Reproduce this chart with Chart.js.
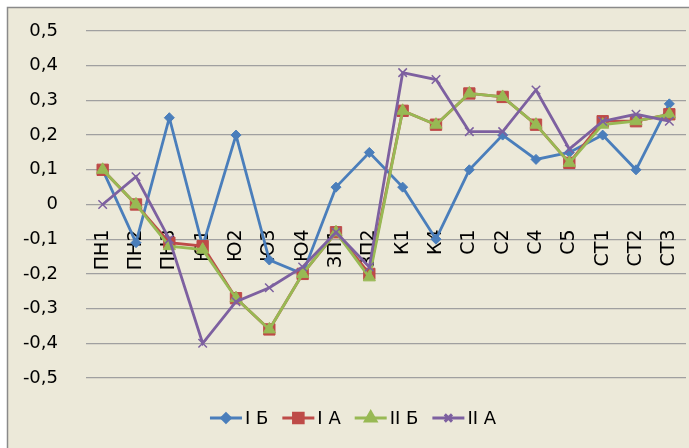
<!DOCTYPE html>
<html>
<head>
<meta charset="utf-8">
<script src="https://cdn.jsdelivr.net/npm/chart.js@4.4.1/dist/chart.umd.min.js"></script>
<style>
html,body{margin:0;padding:0;background:#fff;}
#wrap{width:689px;height:448px;}
</style>
</head>
<body>
<div id="wrap"><canvas id="c" width="689" height="448"></canvas></div>
<script>
const categories = ['ПН1','ПН2','ПН3','Ю1','Ю2','Ю3','Ю4','ЗП1','ЗП2','К1','К4','С1','С2','С4','С5','СТ1','СТ2','СТ3'];
const seriesNames = ['I Б','I A','II Б','II A'];
const iB  = [0.10,-0.11,0.25,-0.12,0.20,-0.16,-0.20,0.05,0.15,0.05,-0.10,0.10,0.20,0.13,0.15,0.20,0.10,0.29];
const iA  = [0.10,0.00,-0.11,-0.12,-0.27,-0.36,-0.20,-0.08,-0.20,0.27,0.23,0.32,0.31,0.23,0.12,0.24,0.24,0.26];
const iiB = [0.10,0.00,-0.12,-0.13,-0.27,-0.36,-0.20,-0.08,-0.21,0.27,0.23,0.32,0.31,0.23,0.12,0.23,0.24,0.26];
const iiA = [0.00,0.08,-0.10,-0.40,-0.28,-0.24,-0.18,-0.08,-0.18,0.38,0.36,0.21,0.21,0.33,0.16,0.24,0.26,0.24];
const yTicks = [-0.5,-0.4,-0.3,-0.2,-0.1,0,0.1,0.2,0.3,0.4,0.5];

const colors = ['#4A7EBB','#BE4B48','#98B954','#7D60A0'];
const styles = ['rectRot','rect','triangle','crossRot'];
const radii = [5,8,7,6];
const FONT = 'DejaVu Sans';
const PLOT_RIGHT = 686;

function fmt(v){ if (Math.abs(v) < 1e-9) return '0'; return v.toFixed(1).replace('.', ','); }

const bgPlugin = {
  id:'bg',
  beforeDraw(chart){
    const ctx = chart.ctx;
    ctx.save();
    ctx.fillStyle = '#ffffff';
    ctx.fillRect(0,0,chart.width,chart.height);
    ctx.fillStyle = '#ECE9D9';
    ctx.fillRect(7,7,chart.width-7,chart.height-7);
    ctx.strokeStyle = '#8a8a8a';
    ctx.lineWidth = 1.5;
    ctx.beginPath();
    ctx.moveTo(7.5,chart.height); ctx.lineTo(7.5,7.5); ctx.lineTo(chart.width,7.5);
    ctx.stroke();
    ctx.restore();
  }
};

const fitXPlugin = {
  id:'fitX',
  afterLayout(chart){
    const a = chart.chartArea;
    a.right = PLOT_RIGHT; a.width = a.right - a.left;
    const s = chart.scales.x;
    s.left = a.left; s.right = a.right; s.width = a.width;
    s.configure();
  }
};

const legendPlugin = {
  id:'customLegend',
  afterDraw(chart){
    const ctx = chart.ctx;
    ctx.save();
    ctx.font = '18px "' + FONT + '"';
    ctx.textBaseline = 'middle';
    const lineLen = 32, gap = 3, spacing = 14;
    const widths = seriesNames.map(n => lineLen + gap + ctx.measureText(n).width);
    const total = widths.reduce((a,b)=>a+b,0) + spacing*(seriesNames.length-1);
    let x = 353 - total/2;
    const y = 418;
    seriesNames.forEach((n,i)=>{
      ctx.strokeStyle = colors[i];
      ctx.lineWidth = 3;
      ctx.beginPath(); ctx.moveTo(x,y); ctx.lineTo(x+lineLen,y); ctx.stroke();
      ctx.fillStyle = colors[i];
      ctx.strokeStyle = colors[i];
      Chart.helpers.drawPoint(ctx,{pointStyle:styles[i],radius:radii[i]*0.85,borderWidth:1,rotation:0},x+lineLen/2,y);
      ctx.fillStyle = '#000';
      ctx.textAlign = 'left';
      ctx.fillText(n, x+lineLen+gap, y+1);
      x += widths[i] + spacing;
    });
    ctx.restore();
  }
};

const dataArrays = [iB,iA,iiB,iiA];
const datasets = dataArrays.map((d,i)=>({
  label: seriesNames[i],
  data: d,
  borderColor: colors[i],
  backgroundColor: colors[i],
  pointBackgroundColor: colors[i],
  pointBorderColor: colors[i],
  pointStyle: styles[i],
  pointRadius: radii[i],
  pointBorderWidth: i===3 ? 1.5 : 1,
  borderWidth: 2.8,
  tension: 0,
  order: 3-i
}));

new Chart(document.getElementById('c'),{
  type:'line',
  data:{labels:categories, datasets},
  options:{
    responsive:false,
    animation:false,
    devicePixelRatio:1,
    layout:{padding:{left:7,top:31,right:3,bottom:70}},
    plugins:{legend:{display:false},tooltip:{enabled:false}},
    scales:{
      x:{
        type:'category',
        position:{y:0},
        offset:true,
        afterFit(s){ s.paddingTop=0; s.paddingBottom=0; s.paddingLeft=0; s.paddingRight=0; },
        grid:{display:false},
        border:{display:false},
        ticks:{
          autoSkip:false, minRotation:90, maxRotation:90, padding:17,
          color:'#000', font:{family:FONT,size:19}
        }
      },
      y:{
        min:-0.5, max:0.5,
        afterFit(s){ s.width = 79; s.paddingTop=0; s.paddingBottom=0; },
        afterBuildTicks(s){ s.ticks = yTicks.map(v=>({value:v})); },
        grid:{color:'#A0A0A0', lineWidth:1.3, drawTicks:false},
        border:{display:false},
        ticks:{
          padding:28, color:'#000', font:{family:FONT,size:18},
          callback:(v)=>fmt(v)
        }
      }
    }
  },
  plugins:[bgPlugin, fitXPlugin, legendPlugin]
});
</script>
</body>
</html>
